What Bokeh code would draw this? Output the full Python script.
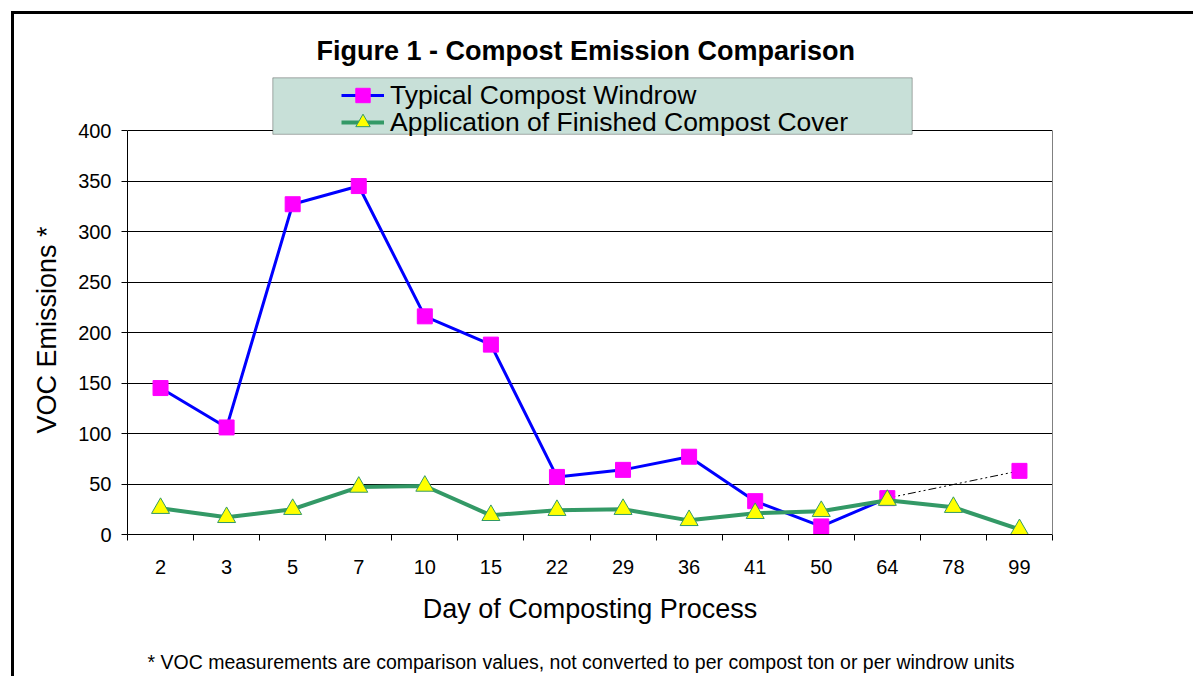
from bokeh.plotting import figure
from bokeh.models import (Range1d, FixedTicker, Legend, LegendItem, BoxAnnotation,
                          Title, CustomJSTickFormatter, LinearAxis)
from bokeh.embed import file_html
from bokeh.resources import INLINE

# ---- data ----
days = ["2", "3", "5", "7", "10", "15", "22", "29", "36", "41", "50", "64", "78", "99"]
windrow = [145, 106, 327, 345, 216, 188, 57, 64, 77, 33, 8, 36, None, 63]
cover = [26, 17, 25, 47, 48, 19, 24, 25, 14, 21, 23, 34, 27, 5]
y_ticks = [0, 50, 100, 150, 200, 250, 300, 350, 400]
connector_days = ["64", "99"]

FONT = "Liberation Sans"

# layout (pixels)
FRAME_W, FRAME_H = 925, 458       # frame includes the legend strip above the 400 line
PLOT_H = 404                      # pixel height of the 0..400 value span
Y_MAX = y_ticks[-1] * FRAME_H / PLOT_H

xs = [i + 0.5 for i in range(len(days))]
windrow_y = [float("nan") if v is None else v for v in windrow]
conn_x = [days.index(d) + 0.5 for d in connector_days]
conn_y = [windrow[days.index(d)] for d in connector_days]

p = figure(width=1182, height=665, x_range=Range1d(0, len(days)), y_range=Range1d(0, Y_MAX),
           output_backend="svg", toolbar_location=None,
           min_border_left=113, min_border_right=144, min_border_top=62, min_border_bottom=145)
p.background_fill_color = "white"
p.border_fill_color = "white"
p.outline_line_color = None
p.styles = {"margin-left": "11px", "margin-top": "11px",
            "border-left": "3px solid black", "border-top": "3px solid black"}

# title
p.title.text = "Figure 1 - Compost Emission Comparison"
p.title.align = "left"
p.title.offset = 189
p.title.text_font = FONT
p.title.text_font_size = "27px"
p.title.text_font_style = "bold"
p.title.text_color = "black"
p.title.standoff = 21

# x axis
xa = p.xaxis[0]
xa.ticker = FixedTicker(ticks=xs, minor_ticks=list(range(len(days) + 1)))
xa.formatter = CustomJSTickFormatter(args=dict(days=days),
                                     code="const i = Math.floor(tick); return (i >= 0 && i < days.length) ? days[i] : '';")
xa.major_tick_line_color = None
xa.major_tick_out = 6
xa.major_tick_in = 0
xa.minor_tick_out = 6
xa.minor_tick_in = 0
xa.minor_tick_line_color = "black"
xa.axis_line_color = "black"
xa.major_label_text_font = FONT
xa.major_label_text_font_size = "20px"
xa.major_label_text_color = "black"
xa.major_label_standoff = 19
xa.axis_label = "Day of Composting Process"
xa.axis_label_text_font = FONT
xa.axis_label_text_font_size = "27px"
xa.axis_label_text_font_style = "normal"
xa.axis_label_text_color = "black"
xa.axis_label_standoff = 17

# y axis (line limited to the 0..400 value span)
ya = p.yaxis[0]
ya.bounds = (y_ticks[0], y_ticks[-1])
ya.ticker = FixedTicker(ticks=y_ticks)
ya.major_tick_out = 6
ya.major_tick_in = 0
ya.minor_tick_line_color = None
ya.major_tick_line_color = "black"
ya.axis_line_color = "black"
ya.major_label_text_font = FONT
ya.major_label_text_font_size = "20px"
ya.major_label_text_color = "black"
ya.major_label_standoff = 10

# y axis title, placed along the 0..400 span
p.add_layout(Title(text="VOC Emissions *", align="left", offset=101, standoff=27,
                   text_font=FONT, text_font_size="27px", text_font_style="normal",
                   text_color="black"), "left")

# right border of the plot area
ra = LinearAxis(bounds=(y_ticks[0], y_ticks[-1]), ticker=FixedTicker(ticks=[]),
                axis_line_color="#808080", major_tick_line_color=None, minor_tick_line_color=None)
p.add_layout(ra, "right")

p.xgrid.visible = False
p.ygrid.ticker = FixedTicker(ticks=y_ticks)
p.ygrid.grid_line_color = "black"
p.ygrid.grid_line_width = 1

# footnote (top padding pushes it down below the axis title); padding = (left, right, top, bottom)
FOOTNOTE = "* VOC measurements are comparison values, not converted to per compost ton or per windrow units"
foot_style = dict(align="left", offset=20, standoff=0, text_font=FONT, text_font_size="19.5px",
                  text_font_style="normal", text_color="black")
try:
    footnote = Title(text=FOOTNOTE, padding=(0, 0, 22, 0), **foot_style)
    p.add_layout(footnote, "below")
except Exception:
    p.add_layout(Title(text="\u200b", text_font=FONT, text_font_size="1px", standoff=20), "below")
    p.add_layout(Title(text=FOOTNOTE, **foot_style), "below")

# series
r_wl = p.line(xs, windrow_y, line_color="#0000FF", line_width=3)
p.line(conn_x, conn_y, line_color="black", line_width=1, line_dash="8 3 2 3 2 3")
r_wm = p.scatter(xs, windrow_y, marker="square", size=15, fill_color="#FF00FF", line_color="#FF00FF")
r_cl = p.line(xs, cover, line_color="#339966", line_width=4)
r_cm = p.scatter(xs, cover, marker="triangle", size=18, fill_color="#FFFF00", line_color="#339966", line_width=1)

# legend box
p.add_layout(BoxAnnotation(left=145.3, right=784.7, top=456.7, bottom=400.2,
                           left_units="screen", right_units="screen", top_units="screen", bottom_units="screen",
                           fill_color="#C8E0D8", fill_alpha=1, line_color="black", line_width=1))

legend_style = dict(padding=0, margin=0, spacing=0, glyph_width=43, glyph_height=36,
                    label_height=24, label_standoff=6, label_text_font=FONT,
                    label_text_font_size="26.5px", label_text_color="black",
                    background_fill_alpha=0, border_line_alpha=0)
legend1 = Legend(items=[LegendItem(label="Typical Compost Windrow", renderers=[r_wl, r_wm])],
                 location=(214, 421), **legend_style)
legend2 = Legend(items=[LegendItem(label="Application of Finished Compost Cover", renderers=[r_cl, r_cm])],
                 location=(214, 394), **legend_style)
p.add_layout(legend1, "center")
p.add_layout(legend2, "center")

open("out.html", "w").write(file_html(p, INLINE))
